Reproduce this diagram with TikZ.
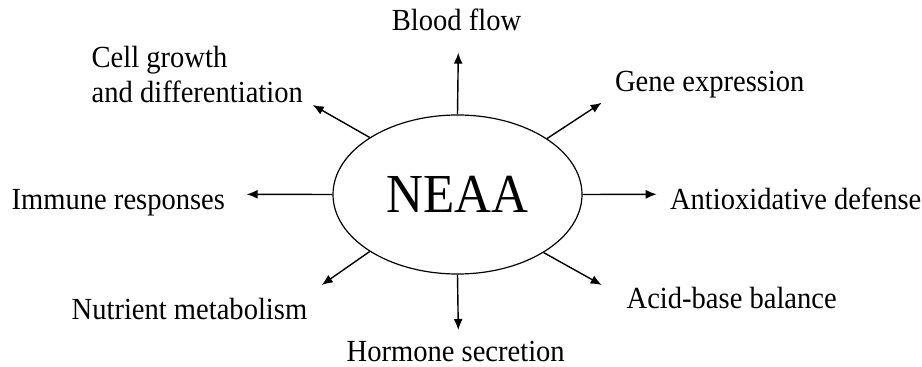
\documentclass[tikz,border=0pt]{standalone}
\usepackage{fontspec}
\setmainfont{Liberation Serif}[FakeStretch=0.93]
\usetikzlibrary{shapes.geometric,arrows.meta}
\tikzset{
  lbl/.style={font=\fontsize{30.7}{35.4}\selectfont, inner sep=0pt, outer sep=0pt},
  conn/.style={line width=1.4pt, -{Latex[length=11pt,width=9pt]}},
  hub/.style={ellipse, draw, line width=1.2pt, minimum width=249pt, minimum height=159pt, inner sep=0pt, font=\fontsize{55}{60}\selectfont}
}
\begin{document}
\begin{tikzpicture}[x=1pt,y=1pt]
\useasboundingbox (0,0) rectangle (922,367);
\node[hub] (neaa) at (457.5,172.5) {NEAA};
% end coordinates
\coordinate (eUp) at (458.3,314.3);
\coordinate (eDown) at (458.3,37);
\coordinate (eLeft) at (246.7,172.7);
\coordinate (eRight) at (656.7,172.7);
\coordinate (eUL) at (312.7,262);
\coordinate (eUR) at (601.7,264.3);
\coordinate (eDL) at (321.7,82);
\coordinate (eDR) at (601.7,82);
% labels
\node[lbl, anchor=base] (blood) at (456.5,336) {Blood flow};
\node[lbl, anchor=base west, align=left] (cell) at (91.7,264.3) {Cell growth\\and differentiation};
\node[lbl, anchor=base west] (gene) at (615,275.3) {Gene expression};
\node[lbl, anchor=base west] (imm) at (11.7,157.7) {Immune responses};
\node[lbl, anchor=base west] (anti) at (670,157.7) {Antioxidative defense};
\node[lbl, anchor=base west] (nutr) at (71.7,47.7) {Nutrient metabolism};
\node[lbl, anchor=base west] (acid) at (626.7,58.7) {Acid-base balance};
\node[lbl, anchor=base west] (horm) at (346.7,5) {Hormone secretion};
% connectors
\draw[conn] (neaa.north) -- (eUp);
\draw[conn] (neaa.south) -- (eDown);
\draw[conn] (neaa.west) -- (eLeft);
\draw[conn] (neaa.east) -- (eRight);
\draw[conn] (neaa.147.7) -- (eUL);
\draw[conn] (neaa.32.3) -- (eUR);
\draw[conn] (neaa.213.2) -- (eDL);
\draw[conn] (neaa.326.2) -- (eDR);
\end{tikzpicture}
\end{document}
